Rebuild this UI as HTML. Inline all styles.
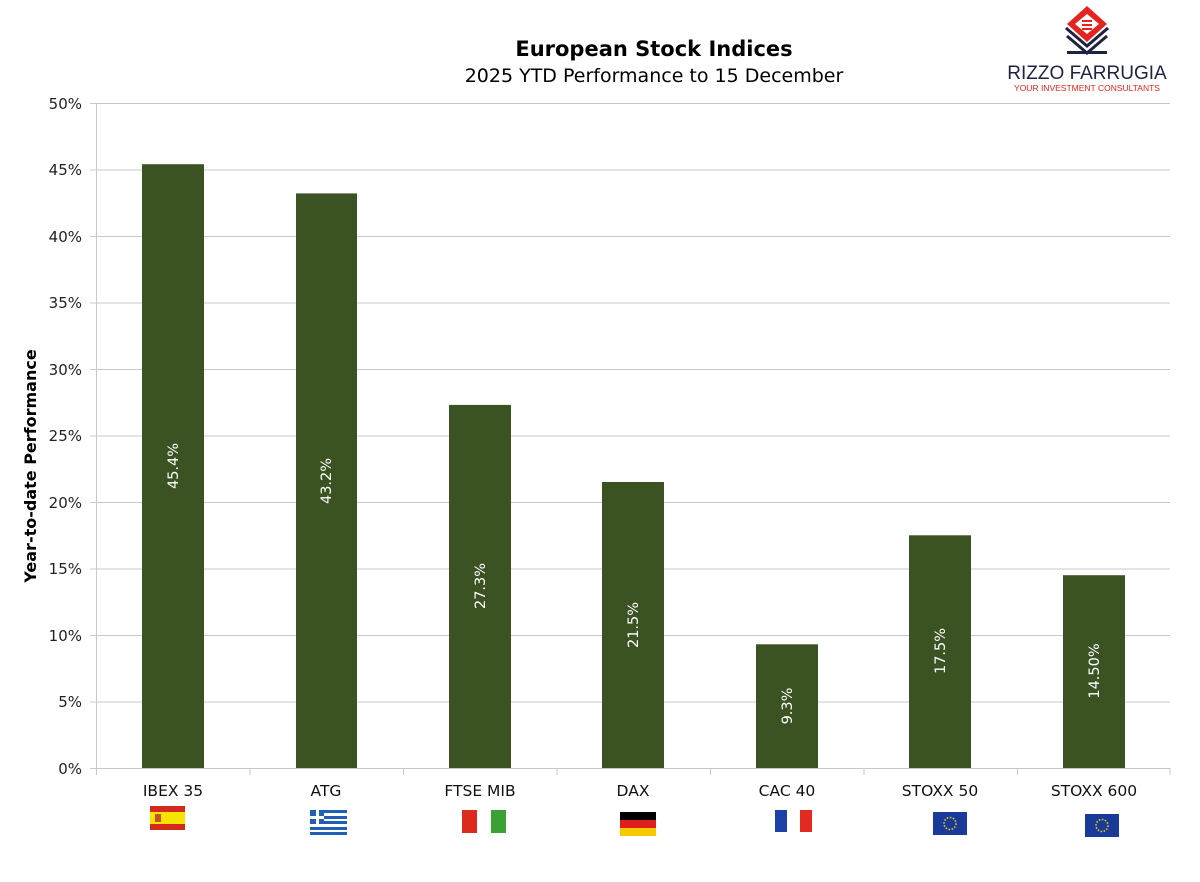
<!DOCTYPE html>
<html><head><meta charset="utf-8"><style>
html,body{margin:0;padding:0;background:#fff;}
svg{display:block;font-family:"DejaVu Sans","Liberation Sans",sans-serif;}
</style></head><body>
<svg width="1200" height="882" viewBox="0 0 1200 882" xmlns="http://www.w3.org/2000/svg">
<rect width="1200" height="882" fill="#fff"/>
<text x="654" y="56" text-anchor="middle" font-size="21" font-weight="bold" fill="#000">European Stock Indices</text>
<text x="654" y="82" text-anchor="middle" font-size="19" fill="#000">2025 YTD Performance to 15 December</text>
<!-- logo -->
<g>
<polygon points="1087,6 1107,24 1087,42 1067,24" fill="#e52421"/>
<polygon points="1087,14 1099,24 1087,34 1075,24" fill="#fff"/>
<path d="M1082,21 h10 M1082,25 h10 M1082,29 h10" stroke="#e52421" stroke-width="2"/>
<path d="M1066,28 L1087,46 L1108,28" stroke="#1f2340" stroke-width="3" fill="none"/>
<path d="M1067,36 L1087,53 L1107,36" stroke="#1f2340" stroke-width="3" fill="none"/>
<rect x="1067" y="51" width="40" height="3" fill="#1f2340"/>
<text x="1087" y="79" text-anchor="middle" font-family="Liberation Sans,sans-serif" font-size="19" fill="#1f2340">RIZZO FARRUGIA</text>
<text x="1087" y="91" text-anchor="middle" font-family="Liberation Sans,sans-serif" font-size="8.5" fill="#e52421">YOUR INVESTMENT CONSULTANTS</text>
</g>
<!-- grid -->
<g stroke="#c8c8c8" stroke-width="1">
<line x1="90" y1="103.5" x2="1170" y2="103.5"/>
<line x1="90" y1="170" x2="1170" y2="170"/>
<line x1="90" y1="236.5" x2="1170" y2="236.5"/>
<line x1="90" y1="303" x2="1170" y2="303"/>
<line x1="90" y1="369.5" x2="1170" y2="369.5"/>
<line x1="90" y1="436" x2="1170" y2="436"/>
<line x1="90" y1="502.5" x2="1170" y2="502.5"/>
<line x1="90" y1="569" x2="1170" y2="569"/>
<line x1="90" y1="635.5" x2="1170" y2="635.5"/>
<line x1="90" y1="702" x2="1170" y2="702"/>
<line x1="90" y1="768.5" x2="1170" y2="768.5"/>
<line x1="96.5" y1="103" x2="96.5" y2="775"/>
<line x1="250" y1="768" x2="250" y2="775"/>
<line x1="403.5" y1="768" x2="403.5" y2="775"/>
<line x1="557" y1="768" x2="557" y2="775"/>
<line x1="710.5" y1="768" x2="710.5" y2="775"/>
<line x1="864" y1="768" x2="864" y2="775"/>
<line x1="1017.5" y1="768" x2="1017.5" y2="775"/>
<line x1="1170" y1="768" x2="1170" y2="775"/>
</g>
<g font-size="15" fill="#222" text-anchor="end">
<text x="82" y="109">50%</text><text x="82" y="175">45%</text><text x="82" y="242">40%</text>
<text x="82" y="308">35%</text><text x="82" y="375">30%</text><text x="82" y="441">25%</text>
<text x="82" y="508">20%</text><text x="82" y="574">15%</text><text x="82" y="641">10%</text>
<text x="82" y="707">5%</text><text x="82" y="774">0%</text>
</g>
<text transform="translate(36,466) rotate(-90)" text-anchor="middle" font-size="16" font-weight="bold" fill="#000">Year-to-date Performance</text>
<!-- bars -->
<g fill="#3b5323">
<rect x="142" y="164.2" width="62" height="603.8"/>
<rect x="296" y="193.4" width="61" height="574.6"/>
<rect x="449" y="404.9" width="62" height="363.1"/>
<rect x="602" y="482" width="62" height="286"/>
<rect x="756" y="644.3" width="62" height="123.7"/>
<rect x="909" y="535.3" width="62" height="232.7"/>
<rect x="1063" y="575.2" width="62" height="192.8"/>
</g>
<g font-size="14.5" fill="#fff" text-anchor="middle">
<text transform="translate(178,466) rotate(-90)">45.4%</text>
<text transform="translate(331,481) rotate(-90)">43.2%</text>
<text transform="translate(485,586) rotate(-90)">27.3%</text>
<text transform="translate(638,625) rotate(-90)">21.5%</text>
<text transform="translate(792,706) rotate(-90)">9.3%</text>
<text transform="translate(945,651) rotate(-90)">17.5%</text>
<text transform="translate(1099,671) rotate(-90)">14.50%</text>
</g>
<g font-size="15.5" fill="#111" text-anchor="middle">
<text x="173" y="796">IBEX 35</text><text x="326" y="796">ATG</text><text x="480" y="796">FTSE MIB</text>
<text x="633" y="796">DAX</text><text x="787" y="796">CAC 40</text><text x="940" y="796">STOXX 50</text><text x="1094" y="796">STOXX 600</text>
</g>
<!-- flags -->
<rect x="150" y="806" width="35" height="24" fill="#d42a1e"/><rect x="150" y="812" width="35" height="12" fill="#f7e300"/>
<rect x="155" y="814" width="6" height="8" fill="#c8502a"/>
<rect x="310" y="810" width="37" height="25" fill="#fff"/>
<g fill="#1f5fb5"><rect x="310" y="810" width="37" height="3"/><rect x="310" y="816" width="37" height="3"/><rect x="310" y="821" width="37" height="3"/><rect x="310" y="827" width="37" height="3"/><rect x="310" y="832" width="37" height="3"/><rect x="310" y="810" width="14" height="14"/></g>
<rect x="316" y="810" width="3" height="14" fill="#fff"/><rect x="310" y="816" width="14" height="3" fill="#fff"/>
<rect x="462" y="810" width="15" height="23" fill="#dd2a1f"/><rect x="477" y="810" width="14" height="23" fill="#fff"/><rect x="491" y="810" width="15" height="23" fill="#3aa235"/>
<rect x="620" y="812" width="36" height="8" fill="#000"/><rect x="620" y="820" width="36" height="8" fill="#dd1f1f"/><rect x="620" y="828" width="36" height="8" fill="#f6c800"/>
<rect x="775" y="810" width="12" height="22" fill="#1d3fa8"/><rect x="787" y="810" width="13" height="22" fill="#fff"/><rect x="800" y="810" width="12" height="22" fill="#e32a22"/>
<rect x="933" y="812" width="34" height="23" fill="#1a3a9a"/><circle cx="950" cy="823.5" r="6" fill="none" stroke="#f5d300" stroke-width="1.5" stroke-dasharray="1.5 1.6"/>
<rect x="1085" y="814" width="34" height="23" fill="#1a3a9a"/><circle cx="1102" cy="825.5" r="6" fill="none" stroke="#f5d300" stroke-width="1.5" stroke-dasharray="1.5 1.6"/>
</svg>
</body></html>
